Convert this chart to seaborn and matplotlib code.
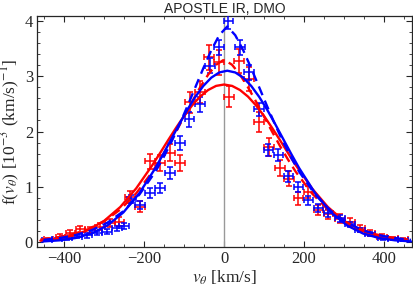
import numpy as np
import matplotlib
matplotlib.use("Agg")
import matplotlib.pyplot as plt
import seaborn as sns
import pandas as pd
from matplotlib.ticker import MultipleLocator

# -------------------
# Binned data, f in 10^-3 (km/s)^-1
red_v = [-440, -410, -385, -360, -335, -310, -285, -262, -235, -210, -185, -160, -135, -110,
         -85, -60, -37, -12, 13, 38, 63, 88, 113, 140, 163, 186, 211, 236, 261, 290, 315,
         340, 365, 395, 423, 448]
red_f = [0.05, 0.10, 0.17, 0.23, 0.22, 0.28, 0.34, 0.37, 0.82, 0.64, 1.46, 1.43, 1.62, 1.43,
         2.53, 2.72, 3.34, 3.25, 2.63, 3.28, 2.95, 2.18, 1.72, 1.34, 1.15, 0.79, 0.90, 0.58,
         0.50, 0.42, 0.37, 0.25, 0.16, 0.10, 0.07, 0.05]
red_err = [0.03, 0.04, 0.05, 0.06, 0.06, 0.07, 0.07, 0.08, 0.11, 0.10, 0.14, 0.14, 0.15, 0.14,
           0.19, 0.20, 0.23, 0.22, 0.19, 0.22, 0.21, 0.18, 0.16, 0.14, 0.13, 0.11, 0.11, 0.09,
           0.08, 0.08, 0.07, 0.06, 0.05, 0.04, 0.03, 0.03]

blue_v = [-443, -418, -393, -368, -343, -318, -293, -268, -250, -232, -210, -185, -160, -135,
          -110, -87, -60, -35, -12, 11, 40, 63, 88, 111, 136, 161, 186, 211, 236, 261, 290,
          315, 340, 365, 398, 423, 448]
blue_f = [0.04, 0.05, 0.07, 0.10, 0.12, 0.16, 0.19, 0.25, 0.29, 0.78, 0.67, 0.88, 0.97, 1.25,
          1.79, 2.22, 2.49, 3.19, 3.52, 4.00, 3.52, 3.07, 2.40, 1.67, 1.58, 1.19, 1.00, 0.76,
          0.62, 0.53, 0.43, 0.32, 0.22, 0.15, 0.07, 0.05, 0.04]
blue_err = [0.02, 0.02, 0.03, 0.03, 0.04, 0.04, 0.05, 0.05, 0.06, 0.08, 0.08, 0.09, 0.09, 0.10,
            0.12, 0.13, 0.13, 0.14, 0.14, 0.15, 0.14, 0.13, 0.12, 0.11, 0.11, 0.10, 0.09, 0.08,
            0.07, 0.07, 0.06, 0.05, 0.04, 0.04, 0.03, 0.02, 0.02]
bin_half = 12

# Fitted curves
grid_v = [-460, -420, -380, -340, -300, -260, -220, -180, -160, -140, -120, -100, -80, -60,
          -40, -20, 0, 20, 40, 60, 80, 100, 120, 140, 160, 180, 220, 260, 300, 340, 380, 420, 460]
red_fit = [0.026, 0.057, 0.115, 0.218, 0.386, 0.634, 0.972, 1.387, 1.613, 1.844, 2.069, 2.282,
           2.472, 2.631, 2.750, 2.825, 2.850, 2.825, 2.750, 2.631, 2.472, 2.282, 2.069, 1.844,
           1.613, 1.387, 0.972, 0.634, 0.386, 0.218, 0.115, 0.057, 0.026]
red_alt = [0.045, 0.081, 0.140, 0.234, 0.378, 0.589, 0.882, 1.267, 1.494, 1.739, 2.001, 2.271,
           2.541, 2.798, 3.027, 3.207, 3.300, 3.207, 3.027, 2.798, 2.541, 2.271, 2.001, 1.739,
           1.494, 1.267, 0.882, 0.589, 0.378, 0.234, 0.140, 0.081, 0.045]
blue_grid_v = [-452, -412, -372, -332, -292, -252, -212, -172, -152, -132, -112, -92, -72, -52,
               -32, -12, 8, 28, 48, 68, 88, 108, 128, 148, 168, 188, 228, 268, 308, 348, 388,
               428, 468]
blue_fit = [0.013, 0.032, 0.074, 0.155, 0.301, 0.538, 0.885, 1.339, 1.597, 1.866, 2.135, 2.393,
            2.626, 2.824, 2.974, 3.068, 3.100, 3.068, 2.974, 2.824, 2.626, 2.393, 2.135, 1.866,
            1.597, 1.339, 0.885, 0.538, 0.301, 0.155, 0.074, 0.032, 0.013]
blue_alt = [0.040, 0.072, 0.126, 0.213, 0.351, 0.559, 0.860, 1.274, 1.527, 1.810, 2.121, 2.454,
            2.799, 3.144, 3.469, 3.742, 3.900, 3.742, 3.469, 3.144, 2.799, 2.454, 2.121, 1.810,
            1.527, 1.274, 0.860, 0.559, 0.351, 0.213, 0.126, 0.072, 0.040]

red_df = pd.DataFrame({"v": grid_v, "fit": red_fit, "alt": red_alt})
blue_df = pd.DataFrame({"v": blue_grid_v, "fit": blue_fit, "alt": blue_alt})

# -------------------
sns.set_style("ticks")
plt.rcParams["font.family"] = ["Liberation Serif", "DejaVu Serif"]
plt.rcParams["mathtext.fontset"] = "stix"

RED = "#ff0000"
BLUE = "#0000ff"

fig = plt.figure(figsize=(4.13, 2.90), dpi=100)
ax = fig.add_axes([0.090, 0.148, 0.907, 0.797])

ax.axvline(0, color="#999999", lw=1.0, zorder=1)

ax.errorbar(red_v, red_f, yerr=red_err, xerr=bin_half, fmt="none", ecolor=RED,
            elinewidth=1.1, capsize=2, capthick=1.1, zorder=3)
ax.errorbar(blue_v, blue_f, yerr=blue_err, xerr=bin_half, fmt="none", ecolor=BLUE,
            elinewidth=1.1, capsize=2, capthick=1.1, zorder=4)

sns.lineplot(data=red_df, x="v", y="fit", color=RED, lw=1.7, ax=ax, zorder=5)
sns.lineplot(data=red_df, x="v", y="alt", color=RED, lw=1.7, ax=ax, zorder=5,
             linestyle=(0, (4, 2.5)))
sns.lineplot(data=blue_df, x="v", y="fit", color=BLUE, lw=1.7, ax=ax, zorder=6)
sns.lineplot(data=blue_df, x="v", y="alt", color=BLUE, lw=1.7, ax=ax, zorder=6,
             linestyle=(0, (4, 2.5)))

ax.set_xlim(-468, 470)
ax.set_ylim(-0.09, 4.09)
ax.xaxis.set_major_locator(MultipleLocator(200))
ax.xaxis.set_minor_locator(MultipleLocator(50))
ax.yaxis.set_major_locator(MultipleLocator(1))
ax.yaxis.set_minor_locator(MultipleLocator(0.2))
ax.tick_params(which="both", direction="in", top=True, right=True, labelsize=12, pad=3)
ax.tick_params(which="major", length=4, width=0.8)
ax.tick_params(which="minor", length=2, width=0.6)
for s in ax.spines.values():
    s.set_linewidth(0.9)

ax.set_xlabel(r"$v_\theta$ [km/s]", fontsize=12.5, labelpad=1)
ax.set_ylabel(r"f($v_\theta$) [10$^{-3}$ (km/s)$^{-1}$]", fontsize=12.5, labelpad=2)
ax.set_title("APOSTLE IR, DMO", fontsize=10, family=["Liberation Sans", "DejaVu Sans"], pad=2)

fig.savefig("out.png", dpi=100)
